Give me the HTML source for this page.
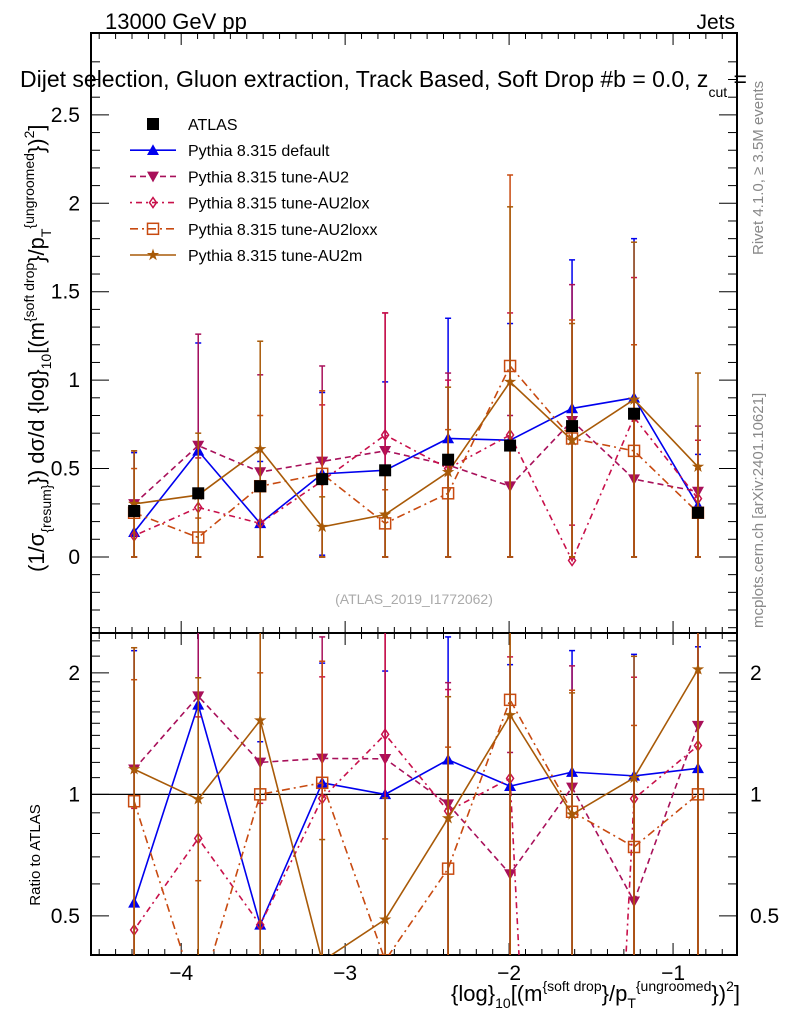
<!DOCTYPE html>
<html><head><meta charset="utf-8"><style>
body{margin:0;background:#fff;overflow:hidden;}
svg{display:block;font-family:"Liberation Sans",sans-serif;}
</style></head><body>
<svg id="c" width="786" height="1024" viewBox="0 0 786 1024" xmlns="http://www.w3.org/2000/svg">
<text x="105" y="29" font-size="22">13000 GeV pp</text>
<text x="735" y="29" font-size="21" text-anchor="end">Jets</text>
<text x="20" y="87" font-size="23">Dijet selection, Gluon extraction, Track Based, Soft Drop #b = 0.0, z<tspan font-size="14" dy="10">cut</tspan><tspan dy="-10"> =</tspan></text>
<text transform="translate(763,255) rotate(-90)" font-size="15" fill="#888">Rivet 4.1.0, ≥ 3.5M events</text>
<text transform="translate(763,628) rotate(-90)" font-size="15" fill="#888">mcplots.cern.ch [arXiv:2401.10621]</text>
<text x="414" y="604" font-size="14" fill="#aaa" text-anchor="middle">(ATLAS_2019_I1772062)</text>
<text transform="translate(44,572) rotate(-90)" font-size="22">(1/σ<tspan font-size="14" dy="7">{resum}</tspan><tspan dy="-7">}) dσ/d {log}</tspan><tspan font-size="14" dy="7">10</tspan><tspan dy="-7">[(m</tspan><tspan font-size="14" dy="-10">{soft drop</tspan><tspan dy="10">}/p</tspan><tspan font-size="14" dy="7">T</tspan><tspan font-size="14" dy="-17">{ungroomed</tspan><tspan dy="10">})</tspan><tspan font-size="14" dy="-10">2</tspan><tspan dy="10">]</tspan></text>
<text transform="translate(40,855) rotate(-90)" font-size="15" text-anchor="middle">Ratio to ATLAS</text>
<text x="740" y="1001" font-size="22" text-anchor="end">{log}<tspan font-size="14" dy="7">10</tspan><tspan dy="-7">[(m</tspan><tspan font-size="14" dy="-10">{soft drop</tspan><tspan dy="10">}/p</tspan><tspan font-size="14" dy="7">T</tspan><tspan font-size="14" dy="-17">{ungroomed</tspan><tspan dy="10">})</tspan><tspan font-size="14" dy="-10">2</tspan><tspan dy="10">]</tspan></text>
<g id="plot"></g>
</svg>
<script>
const xCenters=[-4.287,-3.896,-3.518,-3.14,-2.756,-2.372,-1.994,-1.616,-1.238,-0.848];
const atlasVals=[0.26,0.36,0.40,0.44,0.49,0.55,0.63,0.74,0.81,0.25];
const atlasErr=[0.03,0.03,0.03,0.03,0.03,0.03,0.03,0.03,0.03,0.03];
const defaultVals=[0.14,0.60,0.19,0.47,0.49,0.67,0.66,0.84,0.90,0.29];
const defaultErr=[0.45,0.61,0.35,0.46,0.50,0.68,0.66,0.84,0.90,0.29];
const au2Vals=[0.30,0.63,0.48,0.54,0.60,0.52,0.40,0.77,0.44,0.37];
const au2Err=[0.30,0.63,0.55,0.54,0.78,0.52,0.40,0.77,0.44,0.37];
const au2loxVals=[0.12,0.28,0.19,0.43,0.69,0.50,0.69,-0.02,0.79,0.33];
const au2loxErr=[0.12,0.28,0.19,0.43,0.69,0.50,0.69,0.20,0.79,0.33];
const au2loxxVals=[0.25,0.11,0.40,0.47,0.19,0.36,1.08,0.67,0.60,0.25];
const au2loxxErr=[0.25,0.11,0.40,0.47,0.19,0.36,1.08,0.67,0.60,0.25];
const au2mVals=[0.30,0.35,0.61,0.17,0.24,0.48,0.99,0.66,0.89,0.51];
const au2mErr=[0.30,0.35,0.61,0.17,0.24,0.48,0.99,0.66,0.89,0.53];
const mainTicks=[0,0.5,1,1.5,2,2.5];
const ratioTicks=[0.5,1,2];
const xTicks=[-4,-3,-2,-1];
const legendLabels=["ATLAS","Pythia 8.315 default","Pythia 8.315 tune-AU2","Pythia 8.315 tune-AU2lox","Pythia 8.315 tune-AU2loxx","Pythia 8.315 tune-AU2m"];

const L=91,R=737,T=33,M=633,B=955;
const X=v=>L+(v+4.55)/(3.94)*(R-L);
function Ym(v){return M-(v+0.43)/(2.963+0.43)*(M-T);}
function Yr(v){const lo=Math.log2(0.40),hi=Math.log2(2.51);return B-(Math.log2(Math.max(v,1e-3))-lo)/(hi-lo)*(B-M);}
const NS="http://www.w3.org/2000/svg";
const g=document.getElementById('plot');
function el(tag,a,parent){const e=document.createElementNS(NS,tag);for(const k in a)e.setAttribute(k,a[k]);(parent||g).appendChild(e);return e;}

const defs=el('defs',{});
const c1=el('clipPath',{id:'cm'},defs);el('rect',{x:L,y:T,width:R-L,height:M-T},c1);
const c2=el('clipPath',{id:'cr'},defs);el('rect',{x:L,y:M,width:R-L,height:B-M},c2);

let f=el('rect',{x:L,y:T,width:R-L,height:M-T,fill:'none',stroke:'#000','stroke-width':2});


f=el('rect',{x:L,y:M,width:R-L,height:B-M,fill:'none',stroke:'#000','stroke-width':2});



for(let v=-4.5;v<=-0.6;v+=0.1){const vv=Math.round(v*10)/10;const maj=Math.abs(vv-Math.round(vv))<1e-6;const len=maj?12:6;const xx=X(vv);
 for(const [y0,d] of [[T,1],[M,-1],[M,1],[B,-1]]){const t=el('line',{x1:xx,x2:xx,y1:y0,y2:y0+d*len,stroke:'#000','stroke-width':1});}}
xTicks.forEach(v=>{const t=el('text',{x:X(v),y:980,'font-size':21,'text-anchor':'middle'});t.textContent='\u2212'+Math.abs(v);});

for(let v=-0.4;v<=2.9;v+=0.1){const vv=Math.round(v*10)/10;const maj=Math.abs(vv*2-Math.round(vv*2))<1e-6;const len=maj?18:9;const yy=Ym(vv);
 let t=el('line',{x1:L,x2:L+len,y1:yy,y2:yy,stroke:'#000'});
 t=el('line',{x1:R,x2:R-len,y1:yy,y2:yy,stroke:'#000'});}
mainTicks.forEach(v=>{const t=el('text',{x:80,y:Ym(v)+7,'font-size':21,'text-anchor':'end'});t.textContent=String(v);});

[0.4,0.5,0.6,0.7,0.8,0.9,1,1.1,1.2,1.3,1.4,1.5,1.6,1.7,1.8,1.9,2,2.2,2.4].forEach(v=>{const maj=ratioTicks.includes(v);const len=maj?18:9;const yy=Yr(v);
 let t=el('line',{x1:L,x2:L+len,y1:yy,y2:yy,stroke:'#000'});
 t=el('line',{x1:R,x2:R-len,y1:yy,y2:yy,stroke:'#000'});});
ratioTicks.forEach(v=>{let t=el('text',{x:80,y:Yr(v)+7,'font-size':21,'text-anchor':'end'});t.textContent=String(v);
 t=el('text',{x:750,y:Yr(v)+7,'font-size':21});t.textContent=String(v);});
let one=el('line',{x1:L,x2:R,y1:Yr(1),y2:Yr(1),stroke:'#000','stroke-width':1.3});



function marker(type,x,y,color,parent){
 const s=6;let m;
 if(type==='up')m=el('polygon',{points:`${x-s},${y+s*0.8} ${x+s},${y+s*0.8} ${x},${y-s}`,fill:color},parent);
 else if(type==='down')m=el('polygon',{points:`${x-s},${y-s*0.8} ${x+s},${y-s*0.8} ${x},${y+s}`,fill:color},parent);
 else if(type==='diamond')m=el('polygon',{points:`${x},${y-5} ${x+3.5},${y} ${x},${y+5} ${x-3.5},${y}`,fill:'none',stroke:color,'stroke-width':1.5},parent);
 else if(type==='osq')m=el('rect',{x:x-5.5,y:y-5.5,width:11,height:11,fill:'none',stroke:color,'stroke-width':1.5},parent);
 else if(type==='sq')m=el('rect',{x:x-6,y:y-6,width:12,height:12,fill:'#000'},parent);
 else {let p='';for(let i=0;i<10;i++){const r=i%2?2.5:6.5;const a=-Math.PI/2+i*Math.PI/5;p+=`${x+r*Math.cos(a)},${y+r*Math.sin(a)} `;}m=el('polygon',{points:p,fill:color},parent);}
 return m;
}
const series=[
 {name:'default',vals:defaultVals,err:defaultErr,color:'#0000ee',dash:'',mk:'up'},
 {name:'au2',vals:au2Vals,err:au2Err,color:'#a8105a',dash:'6,4',mk:'down'},
 {name:'au2lox',vals:au2loxVals,err:au2loxErr,color:'#c8104a',dash:'2,4,6,4',mk:'diamond'},
 {name:'au2loxx',vals:au2loxxVals,err:au2loxxErr,color:'#c84a10',dash:'8,4,2,4',mk:'osq'},
 {name:'au2m',vals:au2mVals,err:au2mErr,color:'#a85a08',dash:'',mk:'star'}
];
const gm=el('g',{'clip-path':'url(#cm)'});
const gr=el('g',{'clip-path':'url(#cr)'});

function drawSeries(s,grp,yf,ratio){
 const vals=s.vals.map((v,i)=>ratio?v/atlasVals[i]:v);
 const errs=s.err.map((e,i)=>ratio?e/atlasVals[i]:e);
 vals.forEach((v,i)=>{const x=X(xCenters[i]);const lo=Math.max(v-errs[i],ratio?0.01:0);
  const e=el('line',{x1:x,x2:x,y1:yf(lo),y2:yf(v+errs[i]),stroke:s.color,'stroke-width':1.5},grp);
  [lo,v+errs[i]].forEach(q=>{const c=el('line',{x1:x-3,x2:x+3,y1:yf(q),y2:yf(q),stroke:s.color,'stroke-width':1.5},grp);});});
 const pts=vals.map((v,i)=>X(xCenters[i])+','+yf(v)).join(' ');
 const pl=el('polyline',{points:pts,fill:'none',stroke:s.color,'stroke-width':1.6,'stroke-dasharray':s.dash},grp);
 
 vals.forEach((v,i)=>{const m=marker(s.mk,X(xCenters[i]),yf(v),s.color,grp);});
}
series.forEach(s=>drawSeries(s,gm,Ym,false));
atlasVals.forEach((v,i)=>{const x=X(xCenters[i]);const e=el('line',{x1:x,x2:x,y1:Ym(v-atlasErr[i]),y2:Ym(v+atlasErr[i]),stroke:'#000','stroke-width':1.5},gm);
 const m=marker('sq',x,Ym(v),'#000',gm);});
series.forEach(s=>drawSeries(s,gr,Yr,true));

const lg=el('g',{});
const legStyles=[{mk:'sq',color:'#000',dash:null}].concat(series.map(s=>({mk:s.mk,color:s.color,dash:s.dash})));
legendLabels.forEach((lab,i)=>{const y=124+i*26.2;const st=legStyles[i];
 if(st.dash!==null){const l=el('line',{x1:130,x2:176,y1:y,y2:y,stroke:st.color,'stroke-width':1.6,'stroke-dasharray':st.dash},lg);}
 const m=marker(st.mk,153,y,st.color,lg);
 const t=el('text',{x:188,y:y+6,'font-size':16},lg);t.textContent=lab;});
</script>
</body></html>
